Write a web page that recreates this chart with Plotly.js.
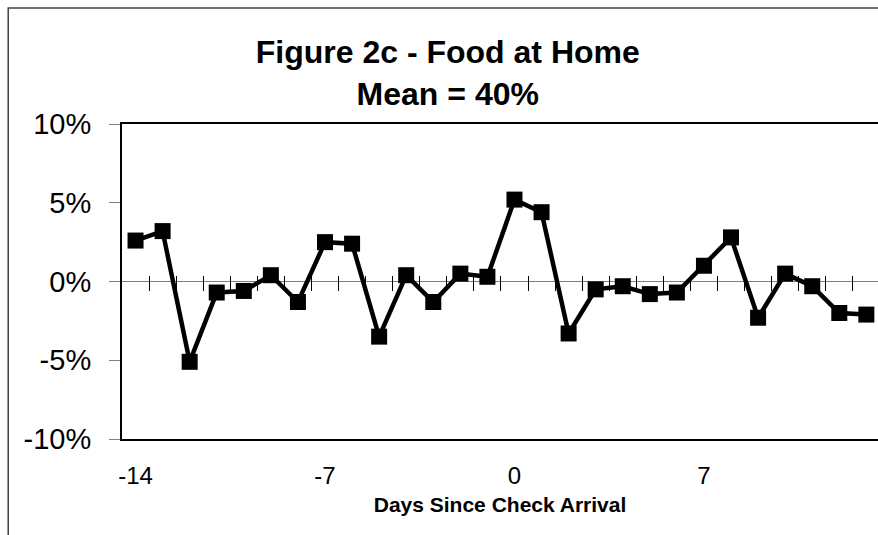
<!DOCTYPE html>
<html>
<head>
<meta charset="utf-8">
<script src="https://cdn.plot.ly/plotly-3.0.1.min.js"></script>
<style>
html,body{margin:0;padding:0;background:#fff;overflow:hidden;}
#chart{width:878px;height:535px;}
</style>
</head>
<body>
<div id="chart"></div>
<script>
// Days since check arrival
var days = [-14,-13,-12,-11,-10,-9,-8,-7,-6,-5,-4,-3,-2,-1,0,1,2,3,4,5,6,7,8,9,10,11,12,13];
// Deviation from mean (percent)
var deviation = [2.6,3.2,-5.1,-0.7,-0.6,0.4,-1.3,2.5,2.4,-3.5,0.4,-1.3,0.5,0.3,5.2,4.4,-3.3,-0.5,-0.3,-0.8,-0.7,1.0,2.8,-2.3,0.5,-0.3,-2.0,-2.1];
// Axis ticks
var xTickVals = [-14,-7,0,7];
var xTickText = ['-14','-7','0','7'];
var yTickVals = [-10,-5,0,5,10];
var yTickText = ['-10%','-5%','0%','5%','10%'];
// category boundaries for the tick marks on the zero line
var boundaryTicks = [];
for (var i = 0; i < days.length - 1; i++) boundaryTicks.push(days[i] + 0.5);

var font = 'Liberation Sans, Arial, sans-serif';
var xr = [-14.5, 13.43];

var traces = [
  {x: days, y: deviation, type: 'scatter', mode: 'lines+markers',
   line: {color: '#000', width: 4.5},
   marker: {symbol: 'square', size: 16, color: '#000'},
   hoverinfo: 'x+y', showlegend: false},
  {x: [], y: [], xaxis: 'x2', type: 'scatter', showlegend: false}
];

var layout = {
  width: 878, height: 535,
  margin: {l: 122, r: 0, t: 124, b: 96},
  paper_bgcolor: '#fff', plot_bgcolor: '#fff',
  font: {family: font, color: '#000'},
  title: {
    text: '<b>Figure 2c - Food at Home</b><br><b>Mean = 40%</b>',
    font: {family: font, size: 32, color: '#000'},
    x: 0.51, xanchor: 'center', xref: 'container',
    y: 0.882, yanchor: 'top', yref: 'container'
  },
  xaxis: {
    range: xr, showgrid: false, zeroline: false,
    showline: true, linecolor: '#000', linewidth: 2, mirror: true,
    tickmode: 'array', tickvals: xTickVals, ticktext: xTickText,
    ticks: 'outside', ticklen: 14, tickcolor: 'rgba(0,0,0,0)',
    tickfont: {family: font, size: 24, color: '#000'},
    title: {text: '<b>Days Since Check Arrival</b>', font: {family: font, size: 21, color: '#000'}, standoff: 10}
  },
  xaxis2: {
    range: xr, overlaying: 'x', anchor: 'free', position: 0.522,
    showgrid: false, zeroline: false, showline: false,
    tickmode: 'array', tickvals: boundaryTicks, showticklabels: false,
    ticks: 'outside', ticklen: 15, tickcolor: '#000', tickwidth: 1
  },
  yaxis: {
    range: [-10, 10], showgrid: false,
    zeroline: true, zerolinecolor: '#808080', zerolinewidth: 1.5,
    showline: true, linecolor: '#000', linewidth: 2, mirror: true,
    tickmode: 'array', tickvals: yTickVals, ticktext: yTickText,
    ticks: 'outside', ticklen: 11, tickcolor: '#808080', tickwidth: 1,
    ticklabelstandoff: 12,
    tickfont: {family: font, size: 29, color: '#000'}
  },
  shapes: [
    {type: 'rect', xref: 'paper', yref: 'paper',
     x0: -0.1505, x1: 1.2, y0: -0.4, y1: 1.368,
     line: {color: '#404040', width: 1.5}, fillcolor: 'rgba(0,0,0,0)', layer: 'below'}
  ]
};

Plotly.newPlot('chart', traces, layout, {displayModeBar: false, staticPlot: true});
</script>
</body>
</html>
